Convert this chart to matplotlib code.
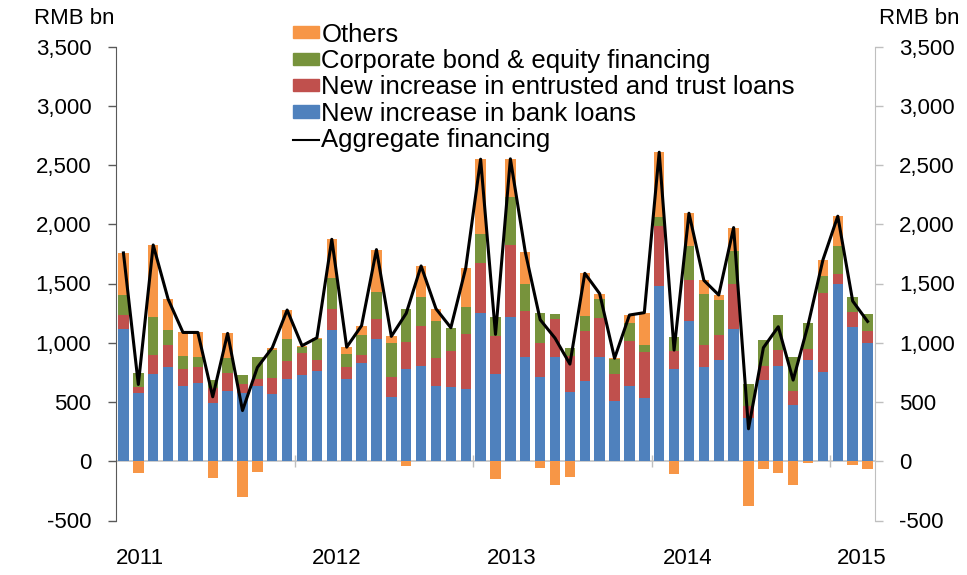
import numpy as np
import matplotlib
matplotlib.use('Agg')
import matplotlib.pyplot as plt
from matplotlib.patches import Patch
from matplotlib.lines import Line2D
from matplotlib.ticker import FuncFormatter

plt.rcParams['font.family'] = ['Liberation Sans', 'DejaVu Sans']

# monthly, Jan 2011 - Mar 2015 (RMB bn)
bank_loans = [1115, 575, 738, 794, 637, 659, 490, 589, 572, 631, 569, 690,
              724, 761, 1107, 690, 825, 1028, 546, 777, 800, 637, 625, 606,
              1254, 735, 1214, 876, 707, 876, 586, 676, 876, 507, 637, 535,
              1482, 775, 1186, 792, 856, 1116, 369, 682, 808, 476, 854, 749,
              1496, 1130, 997]
trust_loans = [116, 53, 155, 189, 140, 135, 124, 155, 82, 59, 132, 155,
               186, 95, 180, 104, 74, 172, 164, 229, 344, 236, 305, 470,
               416, 324, 609, 389, 293, 321, 301, 420, 335, 231, 374, 383,
               501, 155, 346, 191, 212, 383, 101, 124, 127, 118, 90, 668,
               87, 132, 102]
bond_equity = [175, 116, 327, 124, 108, 85, 71, 126, 73, 189, 234, 189,
               56, 175, 257, 113, 166, 225, 284, 279, 245, 307, 191, 225,
               251, 161, 408, 234, 251, 45, 65, 132, 158, 121, 155, 62,
               82, 118, 285, 426, 295, 276, 181, 217, 296, 288, 222, 144,
               237, 124, 143]
others = [352, -96, 605, 262, 202, 208, -141, 209, -299, -87, 23, 242,
          9, 11, 329, 56, 79, 361, 60, -37, 259, 107, 6, 330,
          628, -149, 321, 267, -56, -203, -132, 358, 45, 10, 68, 274,
          543, -110, 276, 118, 40, 197, -377, -65, -96, -197, -17, 138,
          248, -34, -62]
aggregate = [1758, 648, 1825, 1369, 1087, 1087, 544, 1079, 428, 792, 958, 1276,
             975, 1042, 1873, 963, 1144, 1786, 1054, 1248, 1648, 1287, 1127, 1631,
             2549, 1071, 2552, 1766, 1195, 1039, 820, 1586, 1414, 869, 1234, 1254,
             2608, 938, 2093, 1527, 1403, 1972, 274, 958, 1135, 685, 1149, 1699,
             2068, 1352, 1180]
years = ['2011', '2012', '2013', '2014', '2015']
year_pos = [1.1, 14.3, 26.1, 37.9, 49.6]

c_blue = '#4F81BD'
c_red = '#C0504D'
c_green = '#77933C'
c_orange = '#F79646'

b = np.array(bank_loans)
r = np.array(trust_loans)
g = np.array(bond_equity)
o = np.array(others)
x = np.arange(len(b))
w = 0.7

fig = plt.figure(figsize=(9.67, 5.75), dpi=100)
ax = fig.add_axes([116 / 967, 1 - 520.5 / 575, (875 - 116) / 967, (520.5 - 46.5) / 575])

ax.axhline(0, color='#C8C8C8', lw=1.3, zorder=0.5)
ax.bar(x, b, w, color=c_blue, zorder=2)
ax.bar(x, r, w, bottom=b, color=c_red, zorder=2)
ax.bar(x, g, w, bottom=b + r, color=c_green, zorder=2)
ax.bar(x, o, w, bottom=np.where(o >= 0, b + r + g, 0), color=c_orange, zorder=2)
ax.plot(x, aggregate, color='black', lw=2.2, zorder=3)
ax.vlines([11.5, 23.5, 35.5, 47.5], -50, 50, color='#BFBFBF', lw=1, zorder=1)

ax.set_xlim(-0.5, len(b) - 0.5)
ax.set_ylim(-500, 3500)
yt = np.arange(-500, 3501, 500)
fmt = FuncFormatter(lambda v, p: f'{v:,.0f}')
ax.set_yticks(yt)
ax.yaxis.set_major_formatter(fmt)
ax.tick_params(axis='y', direction='out', length=5.8, width=1, color='#595959',
               pad=12, labelsize=16)
ax.set_xticks(year_pos, years)
ax.tick_params(axis='x', length=0, pad=20, labelsize=16)

for s in ['top', 'right', 'bottom']:
    ax.spines[s].set_visible(False)
ax.spines['left'].set_color('#595959')

ax2 = ax.twinx()
ax2.set_ylim(-500, 3500)
ax2.set_yticks(yt)
ax2.yaxis.set_major_formatter(fmt)
ax2.tick_params(axis='y', direction='out', length=5.8, width=1, color='#BFBFBF',
                pad=11.5, labelsize=16)
for s in ['top', 'left', 'bottom']:
    ax2.spines[s].set_visible(False)
ax2.spines['right'].set_color('#BFBFBF')

fig.text(115 / 967, 1 - 19 / 575, 'RMB bn', ha='right', va='center', fontsize=16)
fig.text(879 / 967, 1 - 19 / 575, 'RMB bn', ha='left', va='center', fontsize=16)

handles = [Patch(color=c_orange, label='Others'),
           Patch(color=c_green, label='Corporate bond & equity financing'),
           Patch(color=c_red, label='New increase in entrusted and trust loans'),
           Patch(color=c_blue, label='New increase in bank loans'),
           Line2D([], [], color='black', lw=1.5, label='Aggregate financing')]
fig.legend(handles=handles, loc='upper left', bbox_to_anchor=(293 / 967, 1 - 22.5 / 575),
           frameon=False, fontsize=18.5, borderpad=0, borderaxespad=0,
           handlelength=1.0, handleheight=0.36, handletextpad=0.1, labelspacing=0.095)

fig.savefig('out.png', dpi=100)
